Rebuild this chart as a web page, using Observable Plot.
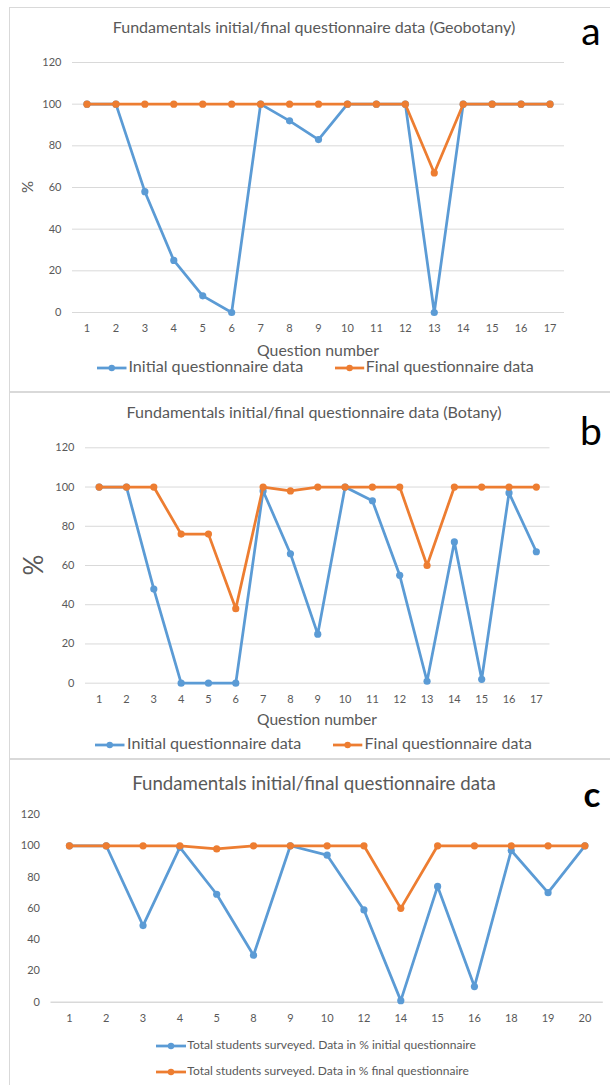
<!DOCTYPE html>
<html>
<head>
<meta charset="utf-8">
<script src="https://cdn.jsdelivr.net/npm/d3@7"></script>
<script src="https://cdn.jsdelivr.net/npm/@observablehq/plot@0.6"></script>
<style>
  html, body { margin: 0; padding: 0; background: #fff; }
  #root { position: relative; width: 610px; height: 1085px; overflow: hidden; background: #fff; font-family: Lato, sans-serif; }
  .box { position: absolute; border: 1.5px solid #d9d9d9; box-sizing: border-box; }
  .txt { position: absolute; white-space: nowrap; line-height: 1; }
  svg.plot { position: absolute; left: 0; }
</style>
</head>
<body>
<div id="root"></div>
<script>
// ---------------- data ----------------
const yTicks = [0, 20, 40, 60, 80, 100, 120];

const questionsA = ["1","2","3","4","5","6","7","8","9","10","11","12","13","14","15","16","17"];
const initialA   = [100,100,58,25,8,0,100,92,83,100,100,100,0,100,100,100,100];
const finalA     = [100,100,100,100,100,100,100,100,100,100,100,100,67,100,100,100,100];

const questionsB = ["1","2","3","4","5","6","7","8","9","10","11","12","13","14","15","16","17"];
const initialB   = [100,100,48,0,0,0,98,66,25,100,93,55,1,72,2,97,67];
const finalB     = [100,100,100,76,76,38,100,98,100,100,100,100,60,100,100,100,100];

const questionsC = ["1","2","3","4","5","8","9","10","12","14","15","16","18","19","20"];
const initialC   = [100,100,49,99,69,30,100,94,59,1,74,10,97,70,100];
const finalC     = [100,100,100,100,98,100,100,100,100,60,100,100,100,100,100];

const titleA = "Fundamentals initial/final questionnaire data (Geobotany)";
const titleB = "Fundamentals initial/final questionnaire data (Botany)";
const titleC = "Fundamentals initial/final questionnaire data";
const xTitle = "Question number";
const yTitle = "%";
const legendAB = ["Initial questionnaire data", "Final questionnaire data"];
const legendC = ["Total students surveyed. Data in % initial questionnaire",
                 "Total students surveyed. Data in % final questionnaire"];

// ---------------- styles ----------------
const BLUE = "#5B9BD5", ORANGE = "#ED7D31", GRID = "#d9d9d9", TEXT = "#595959";
const root = document.getElementById("root");

// panel frames
function box(left, top, w, h) {
  const d = document.createElement("div");
  d.className = "box";
  Object.assign(d.style, {left: left + "px", top: top + "px", width: w + "px", height: h + "px"});
  root.appendChild(d);
}
box(9, 6.5, 640, 386);
box(9, 391, 640, 368);
box(9, 759, 640, 400);

// text helper
const ctx = document.createElement("canvas").getContext("2d");
function metrics(t, size, weight) {
  ctx.font = `${weight} ${size}px Lato`;
  return ctx.measureText(t);
}
function label(t, {x, base, w, anchor = "start", size = 14, weight = 400, color = TEXT}) {
  if (w) size = size * w / metrics(t, size, weight).width;
  const m = metrics(t, size, weight);
  const asc = m.fontBoundingBoxAscent ?? size * 0.987;
  const desc = m.fontBoundingBoxDescent ?? size * 0.213;
  const fromTop = (size + asc - desc) / 2;
  const el = document.createElement("div");
  el.className = "txt";
  el.textContent = t;
  Object.assign(el.style, {
    fontSize: size + "px", fontWeight: weight, color, fontFamily: "Lato",
    top: (base - fromTop) + "px",
    left: (anchor === "middle" ? x - m.width / 2 : x) + "px"
  });
  root.appendChild(el);
  return el;
}
function rotated(t, {cx, cy, size, color = TEXT}) {
  const el = document.createElement("div");
  el.className = "txt";
  el.textContent = t;
  Object.assign(el.style, {
    fontSize: size + "px", color, fontFamily: "Lato",
    left: cx + "px", top: cy + "px",
    transform: "translate(-50%,-50%) rotate(-90deg)"
  });
  root.appendChild(el);
}
function swatch(x1, x2, y, color) {
  const ns = "http://www.w3.org/2000/svg";
  const s = document.createElementNS(ns, "svg");
  s.setAttribute("width", x2 - x1 + 8);
  s.setAttribute("height", 12);
  Object.assign(s.style, {position: "absolute", left: (x1 - 4) + "px", top: (y - 6) + "px"});
  const l = document.createElementNS(ns, "line");
  l.setAttribute("x1", 4); l.setAttribute("x2", x2 - x1 + 4);
  l.setAttribute("y1", 6); l.setAttribute("y2", 6);
  l.setAttribute("stroke", color); l.setAttribute("stroke-width", 2.75);
  const c = document.createElementNS(ns, "circle");
  c.setAttribute("cx", (x2 - x1) / 2 + 4); c.setAttribute("cy", 6); c.setAttribute("r", 3.2);
  c.setAttribute("fill", color);
  s.appendChild(l); s.appendChild(c);
  root.appendChild(s);
}

// chart helper
function panel({top, height, mt, mb, ml, mr, cats, init, fin, grid}) {
  const dI = cats.map((q, i) => ({q, v: init[i]}));
  const dF = cats.map((q, i) => ({q, v: fin[i]}));
  const p = Plot.plot({
    width: 610, height,
    marginTop: mt, marginBottom: mb, marginLeft: ml, marginRight: mr,
    style: {fontFamily: "Lato", fontSize: "11px", color: TEXT, background: "transparent", overflow: "visible"},
    x: {type: "point", domain: cats, padding: 0.5, round: false},
    y: {domain: [0, 120]},
    marks: [
      grid ? Plot.ruleY(yTicks, {stroke: GRID, strokeWidth: 1}) : Plot.ruleY([0], {stroke: GRID, strokeWidth: 1.5}),
      Plot.axisY({ticks: yTicks, tickSize: 0, tickPadding: 11, label: null}),
      Plot.axisX({tickSize: 0, tickPadding: 12, label: null}),
      Plot.line(dI, {x: "q", y: "v", stroke: BLUE, strokeWidth: 2.75}),
      Plot.dot(dI, {x: "q", y: "v", r: 3.6, fill: BLUE}),
      Plot.line(dF, {x: "q", y: "v", stroke: ORANGE, strokeWidth: 2.75}),
      Plot.dot(dF, {x: "q", y: "v", r: 3.6, fill: ORANGE})
    ]
  });
  p.classList.add("plot");
  p.style.top = top + "px";
  root.appendChild(p);
}

// ---------------- panel a ----------------
panel({top: 0, height: 340, mt: 62, mb: 28, ml: 72, mr: 46,
       cats: questionsA, init: initialA, fin: finalA, grid: true});
label(titleA, {x: 314, base: 33.5, w: 403, anchor: "middle"});
label("a", {x: 591, base: 45, anchor: "middle", size: 39, color: "#000"});
label(xTitle, {x: 318, base: 356, w: 122, anchor: "middle"});
rotated(yTitle, {cx: 26.5, cy: 187, size: 15});
swatch(97, 126.5, 368, BLUE);
label(legendAB[0], {x: 128.4, base: 372.5, w: 175});
swatch(334.6, 363.8, 368, ORANGE);
label(legendAB[1], {x: 365.8, base: 372.5, w: 168});

// ---------------- panel b ----------------
panel({top: 392, height: 320, mt: 55.3, mb: 29.3, ml: 85, mr: 60.5,
       cats: questionsB, init: initialB, fin: finalB, grid: true});
label(titleB, {x: 314, base: 418.5, w: 375, anchor: "middle"});
label("b", {x: 591, base: 445, anchor: "middle", size: 39, color: "#000"});
label(xTitle, {x: 317, base: 726, w: 120, anchor: "middle"});
rotated(yTitle, {cx: 33, cy: 565, size: 26});
swatch(95, 124.5, 745, BLUE);
label(legendAB[0], {x: 127, base: 749.5, w: 174.5});
swatch(332.7, 362, 745, ORANGE);
label(legendAB[1], {x: 364.6, base: 749.5, w: 167.5});

// ---------------- panel c ----------------
panel({top: 760, height: 262, mt: 54, mb: 20.3, ml: 50.5, mr: 7.2,
       cats: questionsC, init: initialC, fin: finalC, grid: false});
label(titleC, {x: 314, base: 790.5, w: 364, anchor: "middle"});
label("c", {x: 592, base: 807, anchor: "middle", size: 35, weight: 700, color: "#000"});
swatch(156, 186, 1046, BLUE);
label(legendC[0], {x: 187.3, base: 1050, w: 288.7});
swatch(156, 186, 1071.5, ORANGE);
label(legendC[1], {x: 187.3, base: 1075.5, w: 282});
</script>
</body>
</html>
